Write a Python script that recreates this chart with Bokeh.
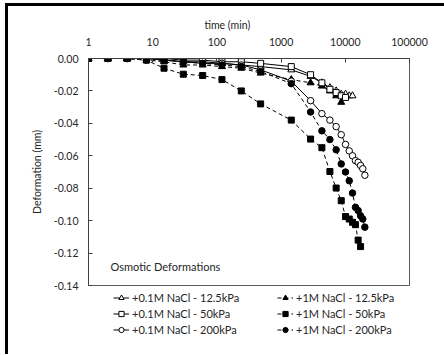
from bokeh.plotting import figure
from bokeh.layouts import column
from bokeh.models import (Range1d, FixedTicker, PrintfTickFormatter, NumeralTickFormatter,
                          Legend, LegendItem, Label, Title)
from bokeh.embed import file_html
from bokeh.resources import INLINE

# ---------------- data ----------------
T = [1, 2, 4, 8, 15, 30, 60, 120, 240, 480, 1440, 2880, 4320, 5760, 7200, 8640,
     10080, 11520, 12960, 14400, 15840, 17280, 18720, 20160]

a_vals = [0, 0, 0, 0, -0.001, -0.002, -0.002, -0.003, -0.004, -0.005, -0.007, -0.011,
          -0.015, -0.018, -0.020, -0.022, -0.022, -0.023, -0.023]          # +0.1M 12.5kPa
b_vals = [0, 0, 0, -0.001, -0.002, -0.004, -0.004, -0.005, -0.006, -0.009, -0.013, -0.015,
          -0.017, -0.020, -0.023, -0.027]                                    # +1M 12.5kPa
c_vals = [0, 0, 0, 0, 0, -0.001, -0.001, -0.002, -0.002, -0.003, -0.005, -0.010,
          -0.015, -0.019, -0.021, -0.023, -0.024]                            # +0.1M 50kPa
e_vals = [0, 0, 0, -0.001, -0.006, -0.0097, -0.0105, -0.013, -0.020, -0.028, -0.038, -0.0497,
          -0.055, -0.0697, -0.0799, -0.0877, -0.0975, -0.099, -0.101, -0.1025, -0.112, -0.116]  # +1M 50kPa
d_vals = [0, 0, 0, 0, -0.001, -0.002, -0.003, -0.003, -0.004, -0.007, -0.014, -0.026,
          -0.034, -0.038, -0.042, -0.047, -0.053, -0.057, -0.060, -0.063, -0.064, -0.066,
          -0.068, -0.072]                                                    # +0.1M 200kPa
f_vals = [0, 0, 0, -0.001, -0.001, -0.002, -0.003, -0.004, -0.005, -0.008, -0.0155, -0.033,
          -0.0446, -0.050, -0.0563, -0.065, -0.070, -0.0754, -0.083, -0.0918, -0.0938, -0.097,
          -0.099, -0.104]                                                    # +1M 200kPa

x_ticks = [1, 10, 100, 1000, 10000, 100000]
y_ticks = [0.0, -0.02, -0.04, -0.06, -0.08, -0.10, -0.12, -0.14]

labels = ["+0.1M NaCl - 12.5kPa", "+1M NaCl - 12.5kPa", "+0.1M NaCl - 50kPa",
          "+1M NaCl - 50kPa", "+0.1M NaCl - 200kPa", "+1M NaCl - 200kPa"]

FONT = "Lato"
TXT = "#262626"
FS = "10.5px"
FS_L = "11px"

p = figure(width=436, height=285, x_axis_type="log", x_axis_location="above",
           x_range=Range1d(1, 100000), y_range=Range1d(-0.14, 0),
           output_backend="svg", toolbar_location=None,
           min_border_left=80, min_border_right=35, min_border_top=52, min_border_bottom=6)
p.xgrid.visible = False
p.ygrid.visible = False
p.outline_line_color = "#595959"
p.outline_line_width = 1

for ax in (p.xaxis, p.yaxis):
    ax.axis_line_color = "#404040"
    ax.major_tick_line_color = "#404040"
    ax.major_tick_in = 4
    ax.major_tick_out = 0
    ax.minor_tick_in = 0
    ax.minor_tick_out = 0
    ax.major_label_text_font = FONT
    ax.major_label_text_font_size = FS
    ax.major_label_text_color = TXT

p.xaxis.ticker = FixedTicker(ticks=x_ticks, minor_ticks=[])
p.xaxis.formatter = PrintfTickFormatter(format="%d")
p.xaxis.major_label_standoff = 13
p.yaxis.ticker = FixedTicker(ticks=y_ticks, minor_ticks=[])
p.yaxis.formatter = NumeralTickFormatter(format="0.00")
p.yaxis.major_label_standoff = 10
p.yaxis.axis_label = "Deformation (mm)"
p.yaxis.axis_label_text_font = FONT
p.yaxis.axis_label_text_font_size = FS
p.yaxis.axis_label_text_font_style = "normal"
p.yaxis.axis_label_text_color = TXT
p.yaxis.axis_label_standoff = 8

series = [
    (a_vals, "triangle", "white", "solid"),
    (b_vals, "triangle", "black", "4 3"),
    (c_vals, "square", "white", "solid"),
    (e_vals, "square", "black", "4 3"),
    (d_vals, "circle", "white", "solid"),
    (f_vals, "circle", "black", "4 3"),
]
sizes = {"triangle": 7, "square": 6, "circle": 6.5}

for (vals, marker, fill, dash) in series:
    xs = T[:len(vals)]
    p.line(xs, vals, line_color="black", line_width=1, line_dash=dash)
    p.scatter(xs, vals, marker=marker, size=sizes[marker], fill_color=fill,
              line_color="black", line_width=1)

p.add_layout(Title(text="time (min)", align="left", offset=116, text_font=FONT,
                   text_font_size=FS, text_font_style="normal", text_color=TXT,
                   standoff=8), "above")
p.add_layout(Label(x=22, y=19, x_units="screen", y_units="screen", text="Osmotic Deformations",
                   text_align="left", text_baseline="middle", text_font=FONT,
                   text_font_size=FS_L, text_color=TXT))

# ---------------- legend panel (proxy glyphs kept off-screen) ----------------
lp = figure(width=436, height=63, x_range=Range1d(-2, -1), y_range=Range1d(-2, -1),
            output_backend="svg", toolbar_location=None,
            x_axis_location=None, y_axis_location=None,
            min_border_left=80, min_border_right=35, min_border_top=0, min_border_bottom=0)
lp.xgrid.visible = False
lp.ygrid.visible = False
lp.outline_line_color = None

items = []
for (vals, marker, fill, dash), lab in zip(series, labels):
    ln = lp.line([T[0], T[1]], [vals[0], vals[1]], line_color="black", line_width=1,
                 line_dash=dash)
    sc = lp.scatter([T[0]], [vals[0]], marker=marker, size=sizes[marker], fill_color=fill,
                    line_color="black", line_width=1)
    items.append(LegendItem(label=lab, renderers=[ln, sc]))

for its, loc in (([items[0], items[2], items[4]], (25, 18)),
                 ([items[1], items[3], items[5]], (189, 18))):
    lg = Legend(items=its, location=loc, orientation="vertical",
                border_line_alpha=0, background_fill_alpha=0, padding=0, margin=0,
                spacing=3, glyph_width=16, glyph_height=13, label_height=13,
                label_standoff=3, label_text_font=FONT, label_text_font_size=FS_L,
                label_text_color=TXT)
    lp.add_layout(lg, "center")

layout = column(p, lp, spacing=0,
                styles={"border-top": "3px solid black", "border-left": "3px solid black",
                        "margin-left": "5px", "margin-top": "3px"})

open("out.html", "w").write(file_html(layout, INLINE))
